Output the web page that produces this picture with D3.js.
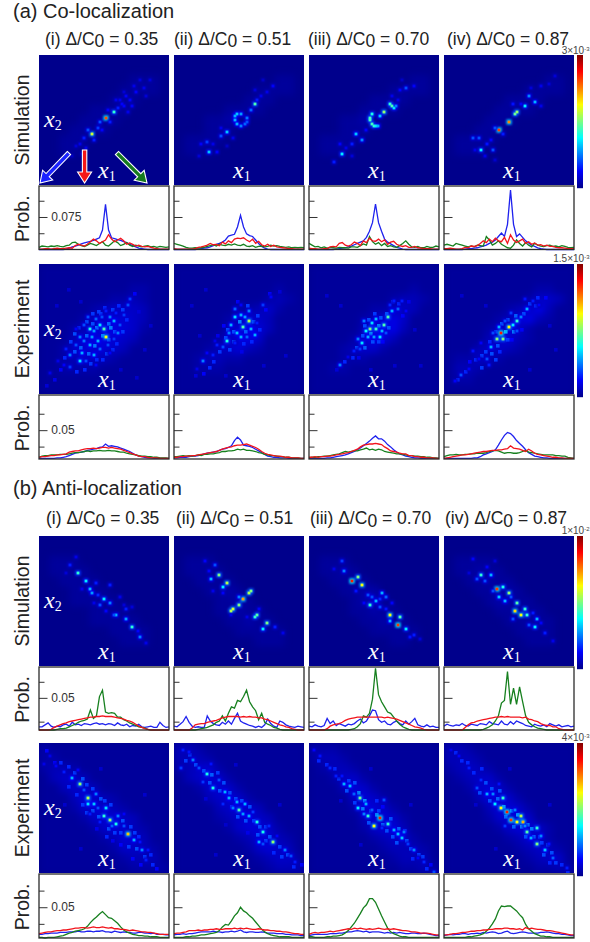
<!DOCTYPE html>
<html>
<head>
<meta charset="utf-8">
<script src="https://cdn.jsdelivr.net/npm/d3@7"></script>
<style>
  body { margin: 0; background: #fff; }
  text { font-family: "Liberation Sans", Arial, sans-serif; fill: #222; }
</style>
</head>
<body>
<script>
const deltas = ['0.35', '0.51', '0.70', '0.87'];
const romans = ['(i)', '(ii)', '(iii)', '(iv)'];

// line cuts, in units of 1e-3 probability. 44 sites per cut
const coSimBlue = [
  [0,0,0,0,0,0,0,0,0,1,3,6,8,10,13,15,17,19,21,24,27,45,104,45,27,25,23,21,18,16,12,9,6,3,2,1,0,0,0,0,0,0,0,0],
  [0,0,0,0,0,0,0,0,1,2,3,4,6,9,12,14,17,22,31,33,35,52,79,52,36,32,30,22,14,7,3,1,0,0,0,0,0,0,0,0,0,0,0,0],
  [0,0,0,0,0,0,0,0,0,1,2,3,4,6,8,11,14,17,20,28,42,62,105,62,42,24,17,13,9,5,3,1,0,0,0,0,0,0,0,0,0,0,0,0],
  [0,0,0,0,0,0,0,1,2,2,3,4,6,8,10,14,17,22,30,38,30,58,137,58,30,36,28,20,15,10,7,4,2,1,0,0,0,0,0,0,0,0,0,0]
];
const coSimRed = [
  [1,1,2,2,1,2,3,2,2,3,4,3,9,12,10,8,12,18,24,20,14,18,22,34,24,18,22,26,20,12,15,12,8,10,7,6,7,5,3,2,1,1,1,1],
  [2,1,1,1,1,1,1,2,5,6,8,10,14,11,12,9,17,13,20,16,24,26,25,27,22,18,24,14,19,11,8,12,7,10,6,5,4,3,2,2,1,1,1,1],
  [3,2,2,1,1,2,2,6,7,6,14,16,10,8,11,17,14,9,20,16,26,20,19,24,18,22,12,17,19,12,9,7,9,5,5,7,4,3,2,2,2,1,1,1],
  [2,2,3,2,1,1,2,5,4,8,7,9,14,20,16,24,18,26,20,18,28,14,34,22,16,20,24,14,18,12,15,10,11,8,10,7,7,5,4,4,3,2,2,2]
];
const coSimGreen = [
  [5,8,7,6,8,7,9,7,6,9,10,16,17,12,9,7,10,14,12,9,14,18,10,8,14,20,16,9,12,16,10,7,10,8,6,8,9,6,7,5,7,6,5,6],
  [14,12,10,8,5,3,3,4,3,4,5,7,9,11,8,12,10,9,12,10,13,10,9,12,8,7,9,5,7,8,6,7,10,8,9,7,6,5,6,4,5,4,5,4],
  [14,10,6,7,4,6,3,5,4,3,5,4,4,3,6,6,5,9,13,10,30,18,12,16,9,14,7,9,6,5,9,14,20,12,6,5,7,4,4,7,5,5,8,6],
  [10,12,10,8,14,12,10,8,6,8,6,10,9,8,30,22,10,14,20,12,8,4,3,10,22,14,8,16,10,6,14,10,8,7,9,10,7,8,6,9,7,5,4,5]
];
const coExpBlue = [
  [1,1,1,1,1,1,2,2,3,4,6,8,10,11,12,13,15,16,17,18,20,21,26,22,23,22,21,19,17,15,13,10,7,5,4,3,2,2,1,1,1,1,1,1],
  [2,2,3,3,3,4,5,5,6,7,9,10,11,12,13,15,17,18,20,23,32,38,33,24,23,22,20,17,14,11,8,5,4,3,3,2,2,2,1,1,1,1,1,1],
  [1,1,1,1,1,1,2,2,3,4,5,6,7,9,11,13,16,19,23,27,31,36,40,35,35,31,25,21,16,12,9,7,5,4,3,2,2,1,1,1,1,1,1,1],
  [1,1,1,1,1,1,1,1,1,1,2,2,4,7,9,11,13,16,24,33,41,46,44,39,32,27,22,16,11,8,5,4,3,2,2,1,1,1,1,1,1,1,1,1]
];
const coExpRed = [
  [3,4,4,5,6,6,7,7,8,9,12,13,14,14,16,17,18,18,19,18,19,20,20,19,20,19,18,17,15,13,11,9,7,5,4,4,3,2,2,2,1,1,1,1],
  [3,3,4,4,5,5,6,6,7,8,9,10,11,12,13,15,17,19,20,21,23,24,24,25,26,24,22,20,17,13,10,8,7,6,5,5,4,3,3,2,2,2,1,1],
  [3,3,4,3,4,4,5,5,6,7,8,9,10,11,13,15,17,21,24,25,26,26,27,26,25,21,18,14,13,12,10,9,9,6,6,4,4,3,3,2,2,2,1,1],
  [1,2,3,4,5,6,7,7,8,9,10,11,12,13,13,14,15,15,16,16,17,18,23,19,18,17,15,13,17,14,10,8,7,6,5,4,3,3,2,2,1,1,1,1]
];
const coExpGreen = [
  [3,5,6,6,7,7,7,8,8,8,9,10,11,11,12,13,14,13,14,14,15,14,14,15,14,14,13,12,12,10,9,8,7,6,5,5,4,4,3,3,2,2,2,1],
  [4,4,5,6,5,6,5,6,7,6,8,8,9,9,10,11,13,13,14,14,15,17,16,17,15,15,14,13,11,10,8,7,6,6,5,4,4,3,3,2,2,2,1,1],
  [2,3,3,4,4,5,5,6,7,8,9,11,13,12,13,14,14,16,17,19,16,17,15,17,16,13,12,11,10,9,9,8,7,6,6,5,5,4,4,3,3,2,2,1],
  [4,6,7,7,8,7,7,8,8,9,9,10,10,10,11,13,14,15,14,12,10,11,11,10,10,11,13,15,12,11,10,9,8,7,7,7,7,6,6,5,5,3,2,1]
];
const antiSimBlue = [
  [5,5,8,11,6,4,6,5,8,9,6,12,8,9,7,10,9,8,10,11,9,10,8,10,9,7,11,8,7,9,5,7,6,9,5,4,5,6,4,4,12,7,4,5],
  [6,5,9,13,21,12,6,4,5,4,4,22,14,10,8,7,12,9,14,9,18,26,14,11,9,7,6,4,6,4,8,17,10,6,4,14,12,8,6,5,4,6,5,4],
  [6,5,8,6,5,7,18,10,14,7,10,8,6,9,8,10,14,17,11,14,22,31,30,16,12,14,9,8,12,14,10,8,14,9,13,18,8,6,5,8,5,6,4,4],
  [6,9,7,6,8,7,10,7,6,9,8,7,10,9,8,13,10,9,8,14,9,8,13,9,14,12,10,7,6,5,9,7,6,8,5,10,8,6,8,5,6,7,5,6]
];
const antiSimRed = [
  [0,0,0,0,1,4,6,8,10,11,13,14,15,16,17,18,19,20,20,21,21,22,21,21,21,20,19,18,17,15,14,12,9,6,4,2,1,0,0,0,0,0,0,0],
  [0,0,0,0,0,0,3,8,9,10,10,12,13,14,15,17,19,20,21,21,21,21,20,21,20,21,20,20,19,19,17,16,14,12,10,8,7,5,4,2,1,0,0,0],
  [0,0,0,0,0,0,2,6,8,9,10,12,15,17,18,19,20,20,20,20,20,20,20,20,20,19,20,19,18,17,15,13,11,9,7,5,4,3,1,0,0,0,0,0],
  [0,0,0,0,0,0,0,4,8,11,12,14,15,16,17,18,19,20,20,21,20,21,20,20,20,20,19,20,17,16,14,13,10,8,7,7,5,5,2,1,0,0,0,0]
];
const antiSimGreen = [
  [0,0,0,0,0,0,1,2,2,3,5,7,9,12,14,15,17,31,18,22,52,62,28,26,27,26,20,20,16,14,11,9,7,5,4,3,1,0,0,0,0,0,0,0],
  [0,0,0,0,0,0,0,0,1,2,3,4,6,8,12,14,22,14,26,36,34,46,44,52,62,44,36,30,16,26,12,9,7,4,3,1,0,0,0,0,0,0,0,0],
  [0,0,0,0,0,0,0,0,0,0,0,0,0,0,1,2,5,10,22,20,26,48,96,55,44,36,28,26,20,14,9,5,3,1,0,0,0,0,0,0,0,0,0,0],
  [0,0,0,0,0,0,0,0,0,0,0,0,0,1,3,5,8,14,22,42,46,91,40,65,40,67,44,22,12,8,5,3,2,1,0,0,0,0,0,0,0,0,0,0]
];
const antiExpBlue = [
  [6,6,7,7,8,8,8,9,9,9,10,10,10,11,10,10,11,11,10,11,11,12,10,10,9,11,10,9,10,9,9,8,8,9,9,8,8,7,8,6,6,6,5,5],
  [5,6,6,7,6,7,7,8,9,10,10,10,10,11,10,10,9,10,10,11,10,11,13,10,9,10,10,9,9,10,9,8,8,8,7,7,7,6,6,5,5,5,4,4],
  [4,5,6,6,6,6,6,7,7,7,8,8,9,10,10,11,12,11,10,11,9,10,10,10,9,8,9,8,9,8,9,8,7,7,8,8,7,7,8,7,6,5,4,4],
  [4,5,6,5,6,6,7,7,6,7,7,8,7,9,8,9,10,9,7,8,10,11,8,7,8,9,10,9,8,8,8,8,9,9,10,9,8,7,7,6,6,5,4,4]
];
const antiExpRed = [
  [7,8,9,10,10,11,12,12,13,13,14,15,16,16,17,17,16,17,18,17,17,18,17,16,17,15,15,14,14,13,12,13,12,11,10,10,9,9,8,7,6,6,6,6],
  [7,8,8,9,10,12,12,12,13,12,13,13,14,14,15,14,14,15,15,15,16,15,16,15,16,15,14,14,15,14,13,13,12,12,11,11,10,10,9,8,7,7,6,6],
  [6,8,9,8,9,9,10,11,10,11,12,13,14,15,14,16,15,16,15,14,15,14,15,16,15,14,15,14,15,14,13,12,12,11,10,10,9,8,8,8,7,6,5,5],
  [5,5,6,7,7,8,9,9,10,11,11,12,12,13,13,14,14,15,15,15,16,16,15,15,14,15,13,17,15,16,15,14,14,13,12,12,11,10,9,8,7,6,5,5]
];
const antiExpGreen = [
  [1,1,0,1,1,1,2,3,4,6,8,9,11,12,13,15,19,25,30,34,39,43,38,33,32,28,24,18,13,10,8,6,5,4,4,3,3,2,2,2,1,1,1,1],
  [1,1,1,1,2,2,3,3,4,5,5,6,7,8,9,12,18,22,21,28,36,41,50,44,41,36,32,26,20,14,10,7,5,4,3,2,2,2,2,1,1,1,1,1],
  [2,2,1,1,1,1,2,2,3,3,4,5,8,12,18,24,32,40,49,54,64,64,58,47,36,26,16,10,7,5,3,2,2,1,1,1,1,1,1,1,1,1,1,1],
  [1,1,1,1,1,1,1,1,2,2,3,4,5,7,11,16,23,31,44,52,51,52,52,48,44,38,33,22,15,11,7,5,3,3,2,2,1,1,1,1,1,1,1,1]
];

// bright spots of each map: [site x1, site x2 (from the top), share of colour bar max]
const coSimSpots = [
  [[33,31,.8],[37,28,.42],[26,39,.58],[24,37,.2],[30,33,.2],[29,36,.18],[22,41,.15],[27,42,.15],[20,44,.1],[23,46,.1],[18,45,.08],[31,37,.12],[35,33,.15],[39,26,.15],[41,24,.12],[42,25,.12],[40,22,.1],[43,20,.12],[45,22,.12],[46,25,.12],[44,28,.1],[48,18,.12],[52,16,.1],[55,12,.08],[50,12,.08],[47,15,.1],[53,20,.08],[42,18,.08],[38,22,.1],[34,27,.12],[21,49,.07],[16,50,.06]],
  [[40,24,.45],[30,30,.3],[31,29,.32],[33,29,.28],[30,32,.3],[31,34,.3],[33,35,.25],[35,34,.22],[36,31,.24],[36,33,.2],[26,38,.32],[23,40,.2],[17,48,.32],[16,43,.18],[13,44,.12],[21,48,.12],[38,27,.22],[41,22,.15],[43,20,.1],[49,15,.12],[46,18,.1],[40,17,.08],[44,12,.06],[12,50,.08],[29,41,.1],[23,36,.1],[19,44,.1],[26,45,.06]],
  [[40,24,.42],[41,25,.45],[42,26,.35],[43,25,.25],[37,28,.52],[35,30,.32],[31,29,.4],[30,31,.44],[30,32,.44],[31,34,.44],[32,35,.42],[33,35,.36],[34,35,.3],[23,39,.32],[26,42,.26],[21,44,.15],[16,49,.36],[15,44,.12],[12,53,.15],[48,16,.2],[45,17,.12],[52,15,.12],[41,20,.1],[44,22,.1],[18,46,.1],[21,50,.08],[28,37,.12],[46,12,.06]],
  [[36,28,.52],[35,29,.48],[32,33,.74],[27,37,.82],[25,36,.2],[18,47,.36],[40,25,.36],[45,23,.3],[42,20,.26],[34,24,.14],[14,41,.2],[17,41,.2],[24,47,.2],[21,44,.14],[48,15,.1],[55,10,.08],[52,14,.08],[23,42,.12],[20,50,.1],[29,39,.15],[38,24,.12],[15,47,.1],[43,16,.08],[25,52,.07],[48,25,.1]]
];
const coExpSpots = [
  [[33,36,.62],[32,32,.45],[30,30,.35],[25,32,.4],[20,48,.35],[21,44,.3],[27,45,.3],[15,45,.25],[37,28,.3],[35,26,.25],[39,34,.25],[29,38,.3],[25,40,.3],[20,36,.25],[24,26,.2],[44,20,.2],[45,17,.18],[15,51,.18],[5,54,.1],[30,42,.22],[34,40,.2],[37,37,.18],[28,27,.22],[22,30,.2],[18,40,.2],[23,48,.2],[13,42,.15],[40,30,.2],[42,25,.18],[33,23,.15],[26,36,.28],[31,26,.2],[18,32,.12],[12,50,.12],[28,50,.12],[35,44,.12],[38,24,.15],[22,38,.24],[27,33,.28],[9,48,.1]],
  [[37,28,.55],[34,31,.45],[30,26,.35],[40,35,.3],[26,38,.4],[33,36,.3],[37,23,.25],[44,20,.18],[14,48,.25],[21,40,.15],[28,30,.3],[31,34,.32],[35,26,.28],[38,32,.3],[30,22,.22],[33,25,.3],[27,34,.25],[24,41,.2],[36,36,.22],[19,45,.15],[16,44,.12],[41,29,.15],[48,16,.12],[11,52,.1],[30,39,.15],[33,20,.12],[20,38,.1]],
  [[30,32,.5],[33,32,.42],[37,30,.45],[39,26,.45],[35,36,.35],[26,39,.35],[41,23,.3],[31,29,.35],[28,33,.38],[29,36,.3],[33,27,.3],[36,33,.3],[27,28,.25],[24,37,.25],[44,22,.22],[46,18,.15],[42,18,.15],[15,50,.25],[22,43,.15],[32,36,.28],[38,34,.2],[25,42,.18],[48,23,.12],[19,46,.1],[40,20,.16]],
  [[28,34,.85],[32,31,.62],[29,37,.5],[26,37,.5],[36,28,.42],[34,30,.35],[41,22,.3],[23,41,.3],[8,55,.2],[21,47,.2],[14,43,.14],[5,58,.12],[44,18,.15],[33,24,.18],[38,26,.25],[27,31,.3],[30,28,.2],[24,34,.2],[22,50,.15],[17,47,.12],[12,52,.12],[18,39,.12],[40,17,.14],[47,20,.12],[36,33,.2]]
];
// fainter grains of the measured maps, read the same way
const coExpGrain = [
  [[17,34,.2],[19,31,.16],[23,28,.2],[26,24,.18],[29,23,.18],[32,21,.16],[36,22,.18],[39,20,.16],[41,22,.18],[43,27,.16],[41,33,.18],[38,39,.16],[36,42,.16],[33,44,.18],[31,47,.16],[25,49,.18],[22,52,.16],[18,53,.16],[12,46,.16],[10,52,.12],[15,38,.18],[17,43,.2],[24,44,.22],[27,40,.25],[31,35,.25],[35,31,.25],[34,29,.22],[28,31,.25],[23,35,.22],[20,41,.22],[26,29,.2],[30,24,.18],[37,33,.2],[34,37,.2],[28,47,.16],[7,57,.1],[3,60,.08],[47,14,.12],[49,23,.08],[20,18,.07],[52,42,.07],[55,30,.07],[8,20,.07],[14,12,.07],[40,52,.07],[48,56,.07]],
  [[32,28,.25],[35,33,.22],[29,33,.22],[26,32,.2],[39,28,.2],[36,20,.18],[41,25,.18],[25,36,.2],[29,38,.2],[27,42,.18],[22,43,.18],[19,48,.16],[17,51,.16],[14,54,.12],[10,55,.08],[34,39,.16],[38,38,.16],[42,32,.16],[45,22,.12],[47,14,.12],[52,13,.08],[31,18,.12],[24,30,.12],[21,35,.1],[33,43,.1],[8,20,.07],[55,45,.07],[44,50,.07],[12,35,.07],[25,55,.07],[15,12,.07]],
  [[27,30,.2],[29,27,.2],[32,24,.18],[35,26,.2],[38,24,.2],[41,18,.18],[44,19,.16],[39,31,.2],[34,38,.18],[31,38,.2],[27,41,.22],[23,41,.2],[21,46,.16],[17,48,.16],[36,38,.12],[26,35,.2],[34,30,.25],[30,34,.28],[49,18,.1],[46,25,.12],[13,52,.08],[24,46,.1],[8,15,.07],[55,50,.07],[42,50,.07],[15,20,.07],[52,32,.07],[30,52,.07]],
  [[30,33,.3],[34,33,.25],[25,33,.2],[28,29,.22],[31,27,.2],[35,25,.22],[39,24,.2],[42,19,.18],[45,20,.16],[46,16,.16],[50,16,.12],[20,43,.18],[23,44,.2],[18,45,.18],[15,47,.16],[18,51,.18],[25,47,.18],[22,38,.16],[12,48,.12],[10,53,.16],[6,57,.16],[27,43,.16],[31,37,.18],[26,40,.2],[33,37,.12],[38,32,.12],[8,15,.07],[55,42,.07],[42,52,.07],[20,20,.07],[52,30,.07]]
];
const antiSimSpots = [
  [[19,18,.42],[23,22,.36],[25,26,.3],[26,28,.28],[32,31,.36],[35,33,.25],[38,39,.3],[43,41,.28],[46,45,.42],[50,50,.25],[15,14,.15],[30,34,.2],[35,24,.15],[43,36,.15],[37,39,.2],[28,23,.15],[18,10,.1],[53,53,.1],[49,47,.12],[40,30,.1],[21,26,.1],[29,29,.16],[42,34,.08],[33,37,.12],[46,35,.08],[27,33,.1],[13,18,.08]],
  [[22,19,.5],[18,21,.3],[26,23,.56],[24,25,.36],[32,34,.5],[34,31,.72],[37,28,.55],[38,27,.5],[29,36,.58],[28,37,.55],[41,39,.46],[40,40,.42],[46,43,.5],[44,46,.36],[20,14,.2],[15,12,.12],[50,45,.15],[54,48,.1],[24,28,.12],[19,27,.1],[28,39,.1],[36,40,.1],[32,30,.25],[17,17,.12],[42,36,.12]],
  [[21,22,.85],[24,20,.5],[26,24,.62],[17,17,.25],[16,12,.18],[40,39,.62],[45,40,.46],[44,44,.82],[40,42,.3],[48,46,.36],[33,32,.3],[36,28,.3],[30,34,.42],[38,30,.22],[29,29,.2],[35,35,.2],[52,49,.15],[23,27,.14],[12,16,.1],[55,51,.08],[31,30,.2],[35,31,.16],[27,33,.12],[41,33,.12],[50,50,.14],[38,36,.14]],
  [[18,19,.42],[23,19,.3],[26,26,.82],[29,25,.4],[32,28,.52],[27,30,.32],[36,33,.46],[40,36,.42],[35,37,.66],[38,39,.62],[41,39,.42],[45,45,.36],[46,41,.3],[16,21,.2],[34,41,.2],[14,11,.12],[42,44,.2],[50,48,.15],[48,43,.12],[54,52,.1],[21,15,.12],[20,22,.2],[24,27,.2],[30,32,.3],[33,30,.2],[44,38,.15],[12,18,.08],[25,12,.08]]
];
const antiExpSpots = [
  [[20,20,.52],[16,17,.3],[12,14,.15],[24,27,.55],[24,30,.35],[27,30,.32],[33,32,.35],[32,36,.42],[35,38,.52],[38,40,.4],[39,36,.25],[44,45,.68],[47,48,.3],[51,53,.26],[29,32,.2],[28,25,.25],[53,58,.15],[5,6,.1],[2,10,.1],[22,23,.2],[30,39,.15],[36,41,.22],[42,41,.2],[25,35,.15],[19,13,.12],[50,49,.14],[54,53,.14],[8,11,.12],[42,35,.12]],
  [[16,15,.4],[19,22,.4],[25,24,.3],[32,33,.45],[31,29,.3],[35,30,.3],[41,39,.4],[44,44,.4],[49,49,.52],[42,49,.3],[55,53,.25],[9,8,.25],[12,12,.2],[27,27,.3],[37,36,.3],[58,56,.2],[3,12,.18],[4,3,.15],[60,59,.15],[14,19,.18],[22,18,.2],[29,32,.25],[34,35,.28],[39,34,.18],[47,41,.16],[18,10,.14],[24,30,.16],[44,50,.2],[51,46,.12],[7,4,.14]],
  [[35,37,.85],[32,41,.62],[25,27,.48],[20,21,.32],[17,20,.3],[24,32,.36],[29,36,.42],[39,40,.42],[44,45,.32],[46,47,.32],[52,53,.26],[13,16,.15],[5,6,.14],[10,12,.16],[57,59,.16],[37,28,.2],[62,64,.2],[28,30,.3],[27,35,.25],[31,33,.22],[42,43,.3],[47,44,.25],[49,50,.18],[22,25,.22],[16,16,.14],[2,3,.12],[36,42,.16],[54,57,.12]],
  [[31,34,.85],[28,32,.62],[33,38,.82],[38,36,.56],[36,39,.62],[39,39,.7],[29,27,.42],[25,30,.36],[41,44,.46],[46,42,.42],[50,53,.32],[21,25,.3],[16,22,.2],[46,50,.5],[54,57,.22],[12,12,.15],[61,62,.15],[24,25,.26],[35,33,.25],[43,47,.3],[48,46,.26],[27,20,.14],[18,18,.16],[7,6,.12],[3,3,.1],[40,41,.26],[52,50,.14],[30,41,.18]]
];
const antiExpGrain = [
  [[3,3,.12],[7,9,.12],[10,9,.16],[14,11,.16],[17,14,.18],[14,21,.16],[18,25,.16],[21,17,.2],[23,20,.18],[26,22,.18],[21,30,.18],[23,34,.18],[26,33,.2],[30,27,.2],[32,28,.18],[35,30,.18],[29,36,.2],[34,42,.2],[37,44,.18],[33,46,.16],[40,44,.18],[41,38,.2],[45,41,.18],[47,44,.18],[49,46,.16],[44,51,.18],[48,52,.2],[52,56,.18],[55,55,.16],[56,60,.16],[50,60,.12],[58,62,.12],[46,57,.12],[40,50,.12],[36,48,.1],[28,42,.1],[12,30,.07],[30,12,.07],[52,25,.07],[20,52,.07]],
  [[7,5,.18],[10,10,.2],[5,8,.18],[14,13,.2],[18,15,.22],[21,14,.18],[24,19,.2],[17,19,.2],[22,23,.2],[27,24,.2],[30,27,.2],[33,28,.2],[37,31,.2],[28,31,.18],[31,36,.2],[35,38,.2],[39,38,.18],[42,41,.2],[45,41,.18],[41,45,.2],[47,46,.2],[45,48,.18],[52,51,.18],[56,55,.2],[53,56,.18],[59,61,.16],[63,60,.12],[49,54,.16],[36,44,.1],[15,27,.08],[30,10,.07],[25,40,.07],[52,30,.07],[20,55,.07]],
  [[4,8,.16],[8,10,.16],[12,12,.16],[14,17,.18],[19,18,.18],[22,19,.2],[18,23,.2],[24,24,.25],[22,29,.18],[27,28,.28],[26,32,.25],[30,33,.22],[33,35,.25],[29,39,.2],[34,33,.18],[36,40,.22],[40,37,.2],[38,43,.2],[41,46,.2],[44,42,.22],[47,43,.2],[43,49,.2],[48,48,.2],[50,52,.2],[54,55,.18],[56,56,.18],[51,57,.16],[58,62,.16],[60,60,.12],[33,28,.16],[36,31,.12],[15,28,.07],[30,12,.07],[50,30,.07],[25,50,.07]],
  [[5,4,.16],[8,8,.16],[11,9,.16],[14,14,.16],[18,12,.16],[20,19,.2],[17,24,.2],[23,22,.2],[27,23,.2],[26,27,.22],[22,28,.2],[29,31,.28],[33,33,.25],[36,35,.28],[30,36,.22],[34,41,.22],[38,41,.25],[41,40,.25],[43,42,.25],[44,46,.22],[40,46,.2],[47,46,.2],[48,49,.18],[51,50,.2],[49,55,.2],[53,54,.2],[55,59,.18],[52,59,.16],[58,60,.16],[61,64,.16],[15,30,.07],[32,12,.07],[52,30,.07],[25,52,.07]]
];

// coarse background of each map, 13 x 13 blocks, one digit per block
const coSimGlow = [
  ['0000000000000','0000000000000','0000000001110','0000000011110','0000000111000','0000011110000','0000111100000','0001111000000','0011100000000','0011000000000','0000000000000','0000000000000','0000000000000'],
  ['0000000000000','0000000000000','0000000000110','0000000011110','0000000111000','0000011110000','0001121000000','0001110000000','0111100000000','0111000000000','0000000000000','0000000000000','0000000000000'],
  ['0000000000000','0000000000000','0000000000110','0000000011110','0000001111000','0000011110000','0001121000000','0001110000000','0111100000000','0111000000000','0000000000000','0000000000000','0000000000000'],
  ['0000000000000','0000000000000','0000000000110','0000000011110','0000001111000','0000011110000','0000111000000','0001110000000','0111100000000','0111000000000','0000000000000','0000000000000','0000000000000']
];
const coExpGlow = [
  ['1111111111111','1111111111111','1111111112211','1111111223211','1111123444311','1111234554311','1112345654211','1113456543111','1124555431111','1123443211111','1122221111111','1111111111111','1111111111111'],
  ['1111111111111','1111111111111','1111111111211','1111111112321','1111112234211','1111123543111','1111135653111','1111245641111','1112345321111','1123322111111','1122211111111','1111111111111','1111111111111'],
  ['1111111111111','1111111111111','1111111111211','1111111123321','1111112234311','1111123564111','1111135663111','1111246531111','1112344211111','1112221111111','1122111111111','1111111111111','1111111111111'],
  ['1111111111111','1111111111111','1111111112211','1111111124431','1111112346311','1111123563211','1111235421111','1111345321111','1113443211111','1224321111111','1332111111111','1221111111111','1111111111111']
];
const antiSimGlow = [
  ['0000000000000','0000000000000','0111000000000','0111100000000','0011110000000','0001111000000','0001111100000','0000011110000','0000011111000','0000000111100','0000000011100','0000000000000','0000000000000'],
  ['0000000000000','0000000000000','0111000000000','0111100000000','0011110000000','0001121000000','0000112100000','0000112110000','0000011211000','0000001111100','0000000011100','0000000000000','0000000000000'],
  ['0000000000000','0000000000000','0111000000000','0112100000000','0011210000000','0001122000000','0000123100000','0000112110000','0000011211000','0000001111100','0000000011000','0000000000000','0000000000000'],
  ['0000000000000','0000000000000','0111100000000','0112110000000','0011211000000','0001122100000','0000122110000','0000011211000','0000001121100','0000000111100','0000000011100','0000000000000','0000000000000']
];
const antiExpGlow = [
  ['2111111111111','2211111111111','2332111111111','1344311111111','1134431111111','1113543211111','1112454321111','1111245543111','1111124543211','1111112354311','1111111244321','1111111123331','1111111112222'],
  ['3321111111111','3332111111111','2345211111111','1345421111111','1124542111111','1113454211111','1111345431111','1111234543111','1111124554211','1111112355321','1111111245431','1111111123442','1111111112333'],
  ['2221111111111','2332111111111','1233211111111','1124421111111','1113542111111','1111454211111','1111255421111','1111135542111','1111124553111','1111112344211','1111111233321','1111111123331','1111111112232'],
  ['3321111111111','3332111111111','2343211111111','1234421111111','1124542111111','1113554211111','1111355421111','1111245541111','1111124554211','1111112354211','1111111234321','1111111123441','1111111112232']
];
const noGrain = [[], [], [], []];

const colorbarLabels = [['3×10','-3'],['1.5×10','-3'],['1×10','-2'],['4×10','-3']];

const rows = [
  { name: 'Simulation', top: 55, lineTop: 186, lineBottom: 249.5, spots: coSimSpots, grain: noGrain, glow: coSimGlow,
    blue: coSimBlue, red: coSimRed, green: coSimGreen, probAt: 0.075, tickStep: 0.0375, yTop: 0.1465, bar: colorbarLabels[0], barY: 54, arrows: true },
  { name: 'Experiment', top: 264, lineTop: 395, lineBottom: 459, spots: coExpSpots, grain: coExpGrain, glow: coExpGlow,
    blue: coExpBlue, red: coExpRed, green: coExpGreen, probAt: 0.05, tickStep: 0.0285, yTop: 0.111, bar: colorbarLabels[1], barY: 262 },
  { name: 'Simulation', top: 536, lineTop: 667, lineBottom: 730, spots: antiSimSpots, grain: noGrain, glow: antiSimGlow,
    blue: antiSimBlue, red: antiSimRed, green: antiSimGreen, probAt: 0.05, tickStep: 0.025, yTop: 0.098, low: 0.013, bar: colorbarLabels[2], barY: 534 },
  { name: 'Experiment', top: 743, lineTop: 874, lineBottom: 938, spots: antiExpSpots, grain: antiExpGrain, glow: antiExpGlow,
    blue: antiExpBlue, red: antiExpRed, green: antiExpGreen, probAt: 0.05, tickStep: 0.027, yTop: 0.104, bar: colorbarLabels[3], barY: 741 }
];

const colLeft = [39, 174, 309, 444];
const panelSize = 130;
const sites = d3.range(65);
const blocks = d3.range(13);

const colour = d3.scaleLinear()
  .domain(d3.range(9).map(i => i / 8))
  .range(['#00008c', '#0000ff', '#007fff', '#00ffff', '#7fff7f', '#ffff00', '#ff7f00', '#ff0000', '#7f0000'])
  .clamp(true);

const svg = d3.select('body').append('svg')
  .attr('width', 590)
  .attr('height', 942)
  .style('display', 'block');

const defs = svg.append('defs');
function blur(id, sd) {
  defs.append('filter').attr('id', id)
    .attr('x', '-10%').attr('y', '-10%').attr('width', '120%').attr('height', '120%')
    .attr('color-interpolation-filters', 'sRGB')
    .append('feGaussianBlur').attr('stdDeviation', sd);
}
blur('soft', 0.55);
blur('halo', 1);
blur('wide', 3.5);

const xSite = d3.scaleBand().domain(sites).range([0, panelSize]);
const xBlock = d3.scaleBand().domain(blocks).range([0, panelSize]);

function drawMap(g, spots, grain, glow, id) {
  g.append('clipPath').attr('id', id).append('rect')
    .attr('width', panelSize).attr('height', panelSize);
  const m = g.append('g').attr('clip-path', `url(#${id})`);
  m.append('rect').attr('width', panelSize).attr('height', panelSize).attr('fill', colour(0));

  const blockCells = glow.flatMap((row, r) => row.split('').map((d, c) => ({ r, c, v: +d * 0.016 })))
    .filter(d => d.v > 0);
  m.append('g').attr('filter', 'url(#wide)')
    .selectAll('rect').data(blockCells).join('rect')
    .attr('x', d => xBlock(d.c))
    .attr('y', d => xBlock(d.r))
    .attr('width', xBlock.bandwidth() + 0.5)
    .attr('height', xBlock.bandwidth() + 0.5)
    .attr('fill', d => colour(d.v));

  m.append('g').attr('filter', 'url(#soft)')
    .selectAll('rect').data(grain).join('rect')
    .attr('x', d => xSite(d[0]))
    .attr('y', d => xSite(d[1]))
    .attr('width', xSite.bandwidth() * 1.8)
    .attr('height', xSite.bandwidth() * 1.8)
    .attr('fill', d => colour(d[2]));

  m.append('g').attr('filter', 'url(#halo)')
    .selectAll('rect').data(spots).join('rect')
    .attr('x', d => xSite(d[0]) - xSite.bandwidth() * 0.8)
    .attr('y', d => xSite(d[1]) - xSite.bandwidth() * 0.8)
    .attr('width', xSite.bandwidth() * 2.6)
    .attr('height', xSite.bandwidth() * 2.6)
    .attr('fill', d => colour(d[2] * 0.42));

  m.append('g').attr('filter', 'url(#soft)')
    .selectAll('rect').data(spots).join('rect')
    .attr('x', d => xSite(d[0]) - xSite.bandwidth() * 0.2)
    .attr('y', d => xSite(d[1]) - xSite.bandwidth() * 0.2)
    .attr('width', xSite.bandwidth() * 1.4)
    .attr('height', xSite.bandwidth() * 1.4)
    .attr('fill', d => colour(d[2]));
}

function axisLabel(g, x, y) {
  const t = g.append('text').attr('x', x).attr('y', y)
    .style('font-family', '"Liberation Serif", serif')
    .style('font-style', 'italic')
    .style('fill', '#fff');
  return t;
}

function drawLines(g, row, c, w) {
  const h = row.lineBottom - row.lineTop;
  const x = d3.scaleLinear().domain([0, 43]).range([0, w]);
  const y = d3.scaleLinear().domain([0, row.yTop]).range([h, 0]);
  g.append('rect').attr('width', w).attr('height', h).attr('fill', '#fff');
  const line = d3.line().x((d, i) => x(i)).y(d => y(d / 1000));
  const series = [[row.blue[c], '#1f22ee'], [row.green[c], '#17801f'], [row.red[c], '#f2141c']];
  g.selectAll('path.cut').data(series).join('path')
    .attr('class', 'cut')
    .attr('d', d => line(d[0]))
    .attr('fill', 'none')
    .attr('stroke', d => d[1])
    .attr('stroke-width', 1.3);

  const ticks = [row.low || row.probAt - row.tickStep, row.probAt, row.probAt + row.tickStep];
  const axis = g.append('g').call(d3.axisRight(y).tickValues(ticks).tickSize(5).tickFormat(''));
  axis.select('.domain').remove();
  axis.selectAll('.tick line')
    .attr('stroke', '#333').attr('stroke-width', 1)
    .attr('x2', d => d === row.probAt ? 8.5 : 5.5);

  g.append('rect').attr('width', w).attr('height', h)
    .attr('fill', 'none').attr('stroke', '#2b2b2b').attr('stroke-width', 1.3);

  if (c === 0) {
    g.append('text').attr('x', w * 0.095).attr('y', y(row.probAt) + 4)
      .style('font-size', '12px').style('fill', '#333')
      .text(String(row.probAt));
  }
}

function drawColorbar(row) {
  const ramp = d3.range(0, 1, 1 / 133);
  const yBar = d3.scaleLinear().domain([0, 1]).range([row.top + 133, row.top]);
  svg.append('g').selectAll('rect').data(ramp).join('rect')
    .attr('x', 577)
    .attr('y', d => yBar(d) - 1)
    .attr('width', 6)
    .attr('height', 1.2)
    .attr('fill', d => colour(d));
  const t = svg.append('text').attr('x', 589.5).attr('y', row.barY)
    .attr('text-anchor', 'end').style('font-size', '10px').style('fill', '#444');
  t.append('tspan').text(row.bar[0]);
  t.append('tspan').attr('dy', -3).style('font-size', '6px').text(row.bar[1]);
}

function arrowPath(c0, r0, c1, r1) {
  const scale = d3.scaleLinear().domain([0, 65]).range([0, panelSize]);
  const x0 = scale(c0), y0 = scale(r0), x1 = scale(c1), y1 = scale(r1);
  const a = Math.atan2(y1 - y0, x1 - x0);
  const px = -Math.sin(a), py = Math.cos(a), ux = Math.cos(a), uy = Math.sin(a);
  const shaft = 2.2, head = 7, len = 11;
  const p = d3.path();
  p.moveTo(x0 + px * shaft, y0 + py * shaft);
  p.lineTo(x1 - ux * len + px * shaft, y1 - uy * len + py * shaft);
  p.lineTo(x1 - ux * len + px * head, y1 - uy * len + py * head);
  p.lineTo(x1, y1);
  p.lineTo(x1 - ux * len - px * head, y1 - uy * len - py * head);
  p.lineTo(x1 - ux * len - px * shaft, y1 - uy * len - py * shaft);
  p.lineTo(x0 - px * shaft, y0 - py * shaft);
  p.closePath();
  return p.toString();
}

rows.forEach((row, ri) => {
  colLeft.forEach((left, c) => {
    const map = svg.append('g').attr('transform', `translate(${left},${row.top})`);
    drawMap(map, row.spots[c], row.grain[c], row.glow[c], `clip-${ri}-${c}`);

    const x1 = axisLabel(map, 59, panelSize - 7).style('font-size', '24px');
    x1.append('tspan').text('x');
    x1.append('tspan').attr('dy', 3).style('font-size', '14px').style('font-style', 'normal').text('1');
    if (c === 0) {
      const x2 = axisLabel(map, 5, panelSize - 58).style('font-size', '24px');
      x2.append('tspan').text('x');
      x2.append('tspan').attr('dy', 3).style('font-size', '14px').style('font-style', 'normal').text('2');
    }
    if (row.arrows && c === 0) {
      const arrows = [[15, 49, 0.5, 64, '#1a22ff'], [22.8, 47.5, 22.8, 64, '#f51616'], [39, 49, 54, 64, '#157a1e']];
      map.selectAll('path.arrow').data(arrows).join('path')
        .attr('class', 'arrow')
        .attr('d', d => arrowPath(d[0], d[1], d[2], d[3]))
        .attr('fill', d => d[4])
        .attr('stroke', '#fff')
        .attr('stroke-width', 1.1);
    }

    const cut = svg.append('g').attr('transform', `translate(${left},${row.lineTop})`);
    drawLines(cut, row, c, panelSize);
  });
  drawColorbar(row);

  svg.append('text')
    .attr('transform', `translate(29,${row.top + 65}) rotate(-90)`)
    .attr('text-anchor', 'middle')
    .style('font-size', '19.5px')
    .text(row.name);
  svg.append('text')
    .attr('transform', `translate(29,${(row.lineTop + row.lineBottom) / 2 + 1}) rotate(-90)`)
    .attr('text-anchor', 'middle')
    .style('font-size', '19.5px')
    .text('Prob.');
});

const sections = [
  { title: '(a) Co-localization', y: 18, headY: 44.5, headX: [45, 174, 308, 447] },
  { title: '(b) Anti-localization', y: 495, headY: 524, headX: [46, 176, 310, 445] }
];
sections.forEach(s => {
  svg.append('text').attr('x', 13).attr('y', s.y).style('font-size', '20px').text(s.title);
  romans.forEach((r, i) => {
    const t = svg.append('text').attr('x', s.headX[i]).attr('y', s.headY).style('font-size', '17.5px');
    t.append('tspan').text(`${r} Δ/C`);
    t.append('tspan').attr('dy', 2.5).text('0');
    t.append('tspan').attr('dy', -2.5).text(` = ${deltas[i]}`);
  });
});
</script>
</body>
</html>
